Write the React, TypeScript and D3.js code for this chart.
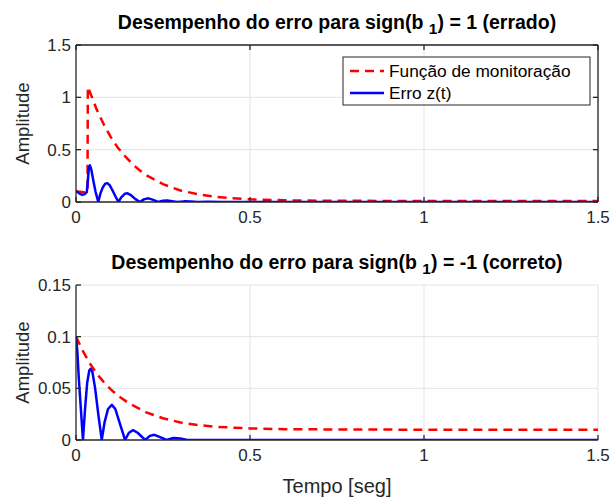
import React from "react";
import * as d3 from "d3";

// top panel: sign(b1) = 1 (errado)
const topMonT = [0, 0.01, 0.02, 0.03, 0.033, 0.034, 0.06, 0.08, 0.1, 0.12, 0.14, 0.16, 0.18, 0.2, 0.25, 0.3, 0.35, 0.4, 0.45, 0.5, 0.6, 0.7, 0.8, 1.0, 1.5];
const topMonV = [0.1, 0.098, 0.095, 0.093, 0.093, 1.1, 0.88, 0.74, 0.62, 0.52, 0.44, 0.37, 0.31, 0.26, 0.17, 0.11, 0.075, 0.05, 0.035, 0.026, 0.016, 0.012, 0.011, 0.01, 0.01];
const topErrT = [0, 0.005, 0.01, 0.018, 0.025, 0.031, 0.034, 0.037, 0.04, 0.044, 0.05, 0.056, 0.064, 0.07, 0.077, 0.084, 0.09, 0.097, 0.105, 0.114, 0.122, 0.13, 0.14, 0.148, 0.158, 0.17, 0.183, 0.195, 0.208, 0.222, 0.236, 0.25, 0.262, 0.276, 0.29, 0.31, 0.33, 0.35, 0.38, 0.42, 1.5];
const topErrV = [0.105, 0.095, 0.08, 0.068, 0.075, 0.095, 0.2, 0.33, 0.35, 0.31, 0.2, 0.1, 0, 0.08, 0.14, 0.175, 0.18, 0.16, 0.11, 0.05, 0, 0.045, 0.078, 0.083, 0.065, 0.03, 0, 0.025, 0.035, 0.02, 0, 0.012, 0.015, 0.008, 0, 0.006, 0.005, 0, 0.003, 0, 0];

// bottom panel: sign(b1) = -1 (correto)
const botMonT = [0, 0.02, 0.04, 0.06, 0.08, 0.1, 0.12, 0.15, 0.2, 0.25, 0.3, 0.35, 0.4, 0.5, 0.6, 0.8, 1.0, 1.5];
const botMonV = [0.1, 0.086, 0.074, 0.064, 0.056, 0.049, 0.043, 0.036, 0.027, 0.021, 0.017, 0.0145, 0.0128, 0.0112, 0.0105, 0.0101, 0.01, 0.01];
const botErrT = [0, 0.004, 0.008, 0.013, 0.02, 0.026, 0.032, 0.038, 0.042, 0.047, 0.055, 0.064, 0.074, 0.082, 0.092, 0.103, 0.113, 0.125, 0.141, 0.152, 0.164, 0.177, 0.199, 0.212, 0.225, 0.24, 0.26, 0.28, 0.3, 0.32, 1.5];
const botErrV = [0.1, 0.085, 0.06, 0.035, 0, 0.03, 0.055, 0.067, 0.069, 0.066, 0.05, 0.025, 0, 0.017, 0.03, 0.034, 0.03, 0.017, 0, 0.007, 0.0095, 0.007, 0, 0.004, 0.005, 0.003, 0, 0.002, 0.0015, 0, 0];

const xTicks = [0, 0.5, 1, 1.5];
const topYTicks = [0, 0.5, 1, 1.5];
const botYTicks = [0, 0.05, 0.1, 0.15];
const legendLabels = ["Função de monitoração", "Erro z(t)"];

const W = 613;
const H = 497;
const FONT = "'Liberation Sans', Arial, Helvetica, sans-serif";
const AX = "#262626";
const GRID = "#e3e3e3";
const TICK_FS = 17;

type PanelProps = {
  id: string;
  top: number;
  bottom: number;
  yMax: number;
  yTicks: number[];
  monT: number[];
  monV: number[];
  errT: number[];
  errV: number[];
  titleMain: string;
  titleTail: string;
  box: boolean;
  legend: boolean;
};

const left = 76;
const right = 598;

function Panel(p: PanelProps) {
  const x = d3.scaleLinear().domain([0, 1.5]).range([left, right]);
  const y = d3.scaleLinear().domain([0, p.yMax]).range([p.bottom, p.top]);
  const line = d3.line<[number, number]>().x(d => x(d[0])).y(d => y(d[1]));
  const mon = line(p.monT.map((t, i) => [t, p.monV[i]]));
  const err = line(p.errT.map((t, i) => [t, p.errV[i]]));
  const fmt = (v: number) => String(v);
  const cx = (left + right) / 2;
  const tick = 5;

  return (
    <g>
      <defs>
        <clipPath id={p.id}>
          <rect x={left} y={p.top - 2} width={right - left} height={p.bottom - p.top + 2} />
        </clipPath>
      </defs>
      {/* grid */}
      {xTicks.slice(1).map(t => (
        <line key={"gx" + t} x1={x(t)} x2={x(t)} y1={p.top} y2={p.bottom} stroke={GRID} strokeWidth={1} />
      ))}
      {p.yTicks.slice(1).map(t => (
        <line key={"gy" + t} x1={left} x2={right} y1={y(t)} y2={y(t)} stroke={GRID} strokeWidth={1} />
      ))}
      {/* curves */}
      <g clipPath={`url(#${p.id})`}>
        <path d={mon ?? ""} fill="none" stroke="#ff0000" strokeWidth={2.5} strokeDasharray="9,6" />
        <path d={err ?? ""} fill="none" stroke="#0000ff" strokeWidth={2.5} strokeLinejoin="round" />
      </g>
      {/* axes */}
      <line x1={left} x2={left} y1={p.top} y2={p.bottom} stroke={AX} strokeWidth={1.3} />
      <line x1={left} x2={right} y1={p.bottom} y2={p.bottom} stroke={AX} strokeWidth={1.3} />
      {p.box && (
        <g>
          <line x1={left} x2={right} y1={p.top} y2={p.top} stroke={AX} strokeWidth={1.3} />
          <line x1={right} x2={right} y1={p.top} y2={p.bottom} stroke={AX} strokeWidth={1.3} />
        </g>
      )}
      {xTicks.map(t => (
        <g key={"tx" + t}>
          <line x1={x(t)} x2={x(t)} y1={p.bottom} y2={p.bottom - tick} stroke={AX} strokeWidth={1.3} />
          {p.box && <line x1={x(t)} x2={x(t)} y1={p.top} y2={p.top + tick} stroke={AX} strokeWidth={1.3} />}
          <text x={x(t)} y={p.bottom + 21} textAnchor="middle" fontSize={TICK_FS} fill={AX} fontFamily={FONT}>{fmt(t)}</text>
        </g>
      ))}
      {p.yTicks.map(t => (
        <g key={"ty" + t}>
          <line x1={left} x2={left + tick} y1={y(t)} y2={y(t)} stroke={AX} strokeWidth={1.3} />
          {p.box && <line x1={right} x2={right - tick} y1={y(t)} y2={y(t)} stroke={AX} strokeWidth={1.3} />}
          <text x={left - 5} y={y(t) + 6} textAnchor="end" fontSize={TICK_FS} fill={AX} fontFamily={FONT}>{fmt(t)}</text>
        </g>
      ))}
      <text transform={`translate(29,${(p.top + p.bottom) / 2}) rotate(-90)`} textAnchor="middle" fontSize={18.5} fill={AX} fontFamily={FONT}>Amplitude</text>
      <text x={cx} y={p.top - 16} textAnchor="middle" fontSize={19.5} fontWeight="bold" fill="#000" fontFamily={FONT}>
        {p.titleMain}
        <tspan dy={5} fontSize={15.5}>1</tspan>
        <tspan dy={-5}>{p.titleTail}</tspan>
      </text>
      {p.legend && (
        <g>
          <rect x={343} y={57} width={247} height={48} fill="#fff" stroke={AX} strokeWidth={1} />
          <line x1={350} x2={384} y1={71} y2={71} stroke="#ff0000" strokeWidth={2.5} strokeDasharray="9,6" />
          <line x1={350} x2={384} y1={93} y2={93} stroke="#0000ff" strokeWidth={2.5} />
          <text x={389} y={77} fontSize={17.3} fill="#000" fontFamily={FONT}>{legendLabels[0]}</text>
          <text x={389} y={99} fontSize={17.3} fill="#000" fontFamily={FONT}>{legendLabels[1]}</text>
        </g>
      )}
    </g>
  );
}

export default function App() {
  return (
    <svg width={W} height={H} style={{ position: "absolute", left: 0, top: 0, background: "#fff" }}>
      <rect width={W} height={H} fill="#fff" />
      <Panel id="c1" top={45} bottom={202} yMax={1.5} yTicks={topYTicks} monT={topMonT} monV={topMonV} errT={topErrT} errV={topErrV}
        titleMain="Desempenho do erro para sign(b " titleTail=") = 1 (errado)" box={true} legend={true} />
      <Panel id="c2" top={285} bottom={440} yMax={0.15} yTicks={botYTicks} monT={botMonT} monV={botMonV} errT={botErrT} errV={botErrV}
        titleMain="Desempenho do erro para sign(b " titleTail=") = -1 (correto)" box={false} legend={false} />
      <text x={(left + right) / 2} y={493} textAnchor="middle" fontSize={20} fill={AX} fontFamily={FONT}>Tempo [seg]</text>
    </svg>
  );
}
